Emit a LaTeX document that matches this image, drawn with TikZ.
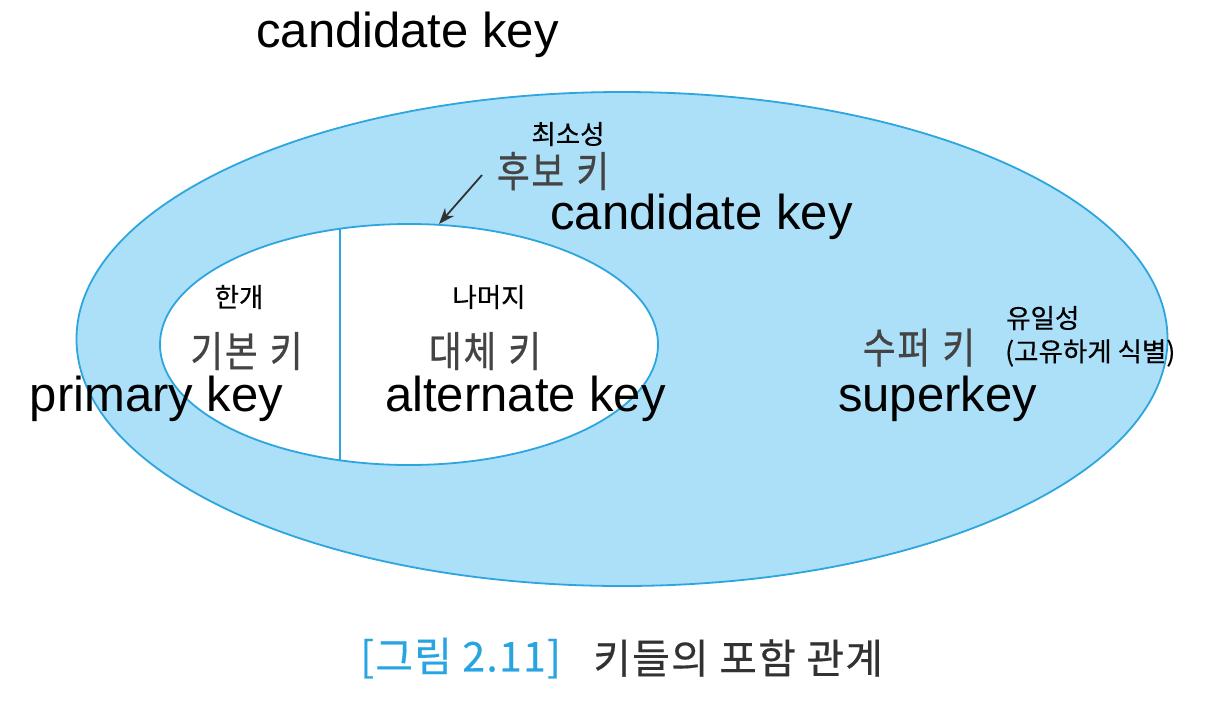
\documentclass[tikz,border=0pt]{standalone}
\usepackage{fontspec}
\setmainfont{Liberation Sans}
\newfontfamily\krb[FakeBold=0.4]{Noto Sans CJK KR}
\newfontfamily\krn[FakeStretch=0.85,LetterSpace=4,FakeBold=0.6]{Noto Sans CJK KR}
\newfontfamily\krc[LetterSpace=3,FakeBold=0.4]{Noto Sans CJK KR}
\usetikzlibrary{shapes.geometric,arrows.meta}
\definecolor{fillblue}{RGB}{172,224,248}
\definecolor{lineblue}{RGB}{45,165,222}
\definecolor{capblue}{RGB}{40,165,225}
\definecolor{graytext}{RGB}{68,68,68}
\definecolor{arrowgray}{RGB}{50,50,50}
\begin{document}
\begin{tikzpicture}[x=1pt,y=-1pt,
  eng/.style={font=\fontsize{49}{58}\selectfont, anchor=base, inner sep=0},
  krsmall/.style={font=\krb\fontsize{26.5}{30}\selectfont, inner sep=0},
  krbig/.style={font=\krn\fontsize{42}{48}\selectfont, text=graytext, inner sep=0},
  ring/.style={ellipse, draw=lineblue, line width=1.8pt, inner sep=0}]
\useasboundingbox (0,0) rectangle (1212,716);
\node[ring, fill=fillblue, minimum width=1091pt, minimum height=494pt] (outer) at (622,339) {};
\node[ring, fill=white, minimum width=498pt, minimum height=241pt] (inner) at (409,344.5) {};
\coordinate (divtop) at (340,229);
\coordinate (divbot) at (340,460);
\draw[lineblue, line width=1.8pt] (divtop) -- (divbot);
\coordinate (arrowstart) at (482,175);
\draw[arrowgray, line width=1.8pt, -{Stealth[length=16pt,width=12pt]}] (arrowstart) -- (inner.76.5);
% English labels
\node[eng] (ck1) at (407.5,47) {candidate key};
\node[eng] (ck2) at (701.5,229) {candidate key};
\node[eng] (pk) at (156.5,411) {primary key};
\node[eng] (ak) at (525.5,411) {alternate key};
\node[eng] (sk) at (937.5,411) {superkey};
% Korean labels
\node[krsmall] (min) at (568,134) {최소성};
\node[krbig] (cand) at (553,171) {후보\hspace{12pt}키};
\node[krsmall] (one) at (239,297) {한개};
\node[krsmall] (rest) at (489,297) {나머지};
\node[krbig] (prim) at (246.5,351) {기본\hspace{12pt}키};
\node[krbig] (alt) at (485,351) {대체\hspace{12pt}키};
\node[krbig] (sup) at (919,347.5) {수퍼\hspace{12pt}키};
\node[krsmall, anchor=west] (uniq) at (1006,318) {유일성};
\node[krsmall, anchor=west] (ident) at (1005,353) {(고유하게 식별)};
% caption
\node[font=\krc\fontsize{41}{46}\selectfont, text=capblue, anchor=west, inner sep=0] (figno) at (360,658) {[그림 2.11]};
\node[font=\krc\fontsize{41}{46}\selectfont, text=arrowgray, anchor=west, inner sep=0] (figtitle) at (593,658) {키들의 포함 관계};
\end{tikzpicture}
\end{document}
